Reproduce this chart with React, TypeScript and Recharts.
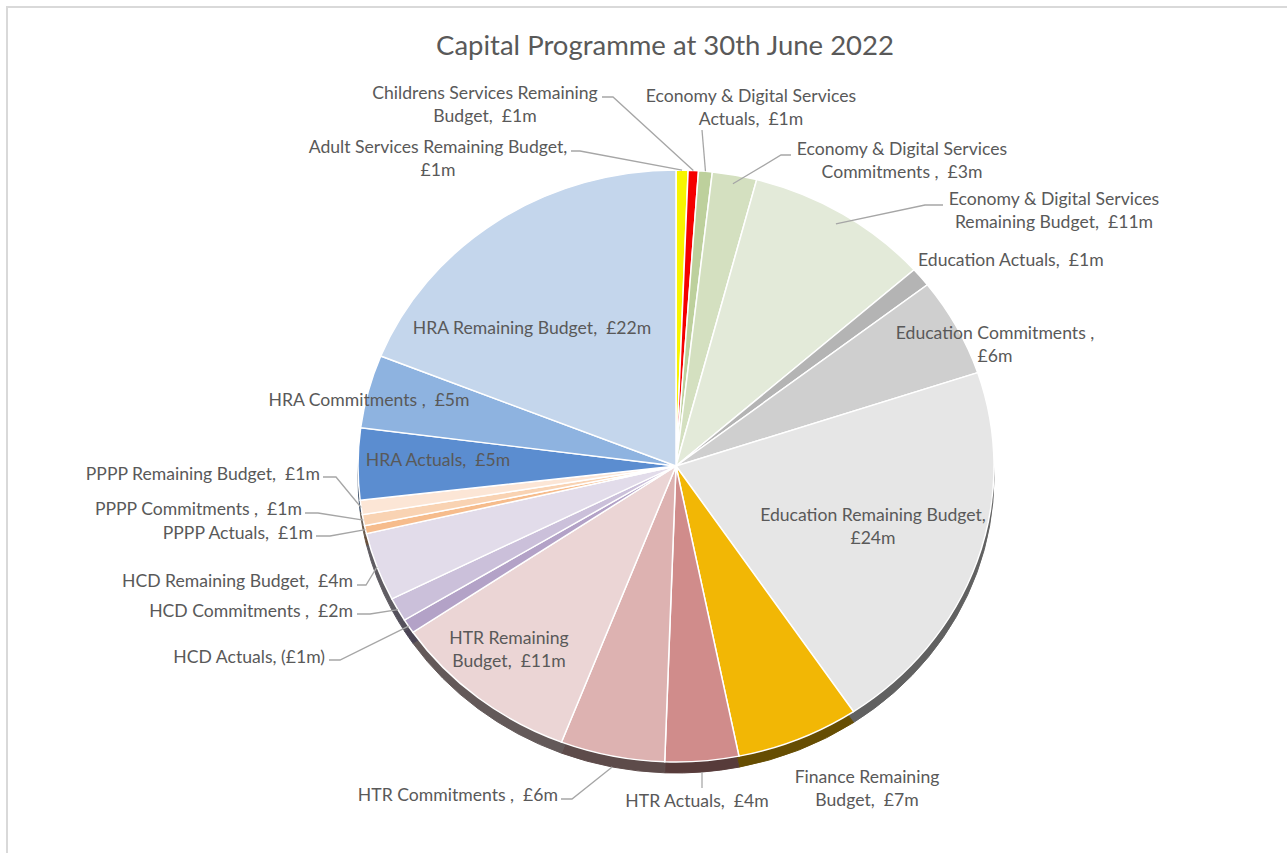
import { PieChart, Pie, Cell } from 'recharts';

// Capital Programme at 30th June 2022 (£m)
const categories = [
  'Adult Services Remaining Budget',
  'Childrens Services Remaining Budget',
  'Economy & Digital Services Actuals',
  'Economy & Digital Services Commitments ',
  'Economy & Digital Services Remaining Budget',
  'Education Actuals',
  'Education Commitments ',
  'Education Remaining Budget',
  'Finance Remaining Budget',
  'HTR Actuals',
  'HTR Commitments ',
  'HTR Remaining Budget',
  'HCD Actuals',
  'HCD Commitments ',
  'HCD Remaining Budget',
  'PPPP Actuals',
  'PPPP Commitments ',
  'PPPP Remaining Budget',
  'HRA Actuals',
  'HRA Commitments ',
  'HRA Remaining Budget',
];

const amounts = [
  0.7, 0.6, 0.8, 2.6, 10.8, 1.2, 6.2, 23.8, 7.2, 4.3, 6.1, 11.1, -0.9, 1.5, 4.3,
  0.5, 0.7, 0.9, 4.5, 4.6, 21.8,
];

const sliceColors = [
  '#F7F400', '#F50000', '#BDD09C', '#D4E0C0', '#E3EAD9', '#B4B4B4', '#CFCFCF',
  '#E6E6E6', '#F2B705', '#D08C8B', '#DDB2B1', '#EBD5D5', '#B3A2C7', '#CBC0DA',
  '#E2DCEA', '#F6BC8C', '#F9D3B3', '#FCE6D6', '#5B8DD0', '#8EB3E0', '#C4D6EC',
];

const W = 1287;
const H = 853;
const CX = 676;
const CY = 466;
const RX = 318;
const RY = 296;
const K = RY / RX; // the 3D pie is seen slightly from above
const RIM = 11;
const LINE = 23;
const FONT = "Lato, 'Open Sans', sans-serif";
const NO_MARGIN = { top: 0, right: 0, bottom: 0, left: 0 };

type Spot = {
  x: number;
  y: number;
  anchor: 'start' | 'middle' | 'end';
  wrap: number; // words of the name kept on line 1 (0 = one line)
  leader?: [number, number][];
  reach?: number;
  drop?: number;
};

// where Excel put each data label
const labelSpots: Spot[] = [
  { x: 438, y: 146, anchor: 'middle', wrap: 99, leader: [[571, 151], [580, 151]] },
  { x: 485, y: 92, anchor: 'middle', wrap: 3, leader: [[602, 97], [613, 97]] },
  { x: 751, y: 95, anchor: 'middle', wrap: 4, leader: [[702, 130]] },
  { x: 902, y: 148, anchor: 'middle', wrap: 4, leader: [[791, 155], [781, 155]], reach: 0.97 },
  { x: 1054, y: 198, anchor: 'middle', wrap: 4, leader: [[943, 205], [925, 205]], reach: 0.96 },
  { x: 918, y: 259, anchor: 'start', wrap: 0 },
  { x: 995, y: 332, anchor: 'middle', wrap: 99 },
  { x: 873, y: 514, anchor: 'middle', wrap: 99 },
  { x: 867, y: 776, anchor: 'middle', wrap: 2 },
  { x: 697, y: 800, anchor: 'middle', wrap: 0, leader: [[702, 788]], drop: RIM },
  { x: 558, y: 794, anchor: 'end', wrap: 0, leader: [[561, 799], [572, 799]], drop: RIM },
  { x: 509, y: 637, anchor: 'middle', wrap: 2 },
  { x: 325, y: 656, anchor: 'end', wrap: 0, leader: [[329, 660], [340, 660]] },
  { x: 353, y: 610, anchor: 'end', wrap: 0, leader: [[357, 614], [370, 614]] },
  { x: 353, y: 580, anchor: 'end', wrap: 0, leader: [[357, 585], [366, 585]] },
  { x: 313, y: 532, anchor: 'end', wrap: 0, leader: [[316, 536], [330, 536]] },
  { x: 302, y: 508, anchor: 'end', wrap: 0, leader: [[305, 513], [318, 513]] },
  { x: 320, y: 473, anchor: 'end', wrap: 0, leader: [[323, 477], [336, 477]] },
  { x: 438, y: 459, anchor: 'middle', wrap: 0 },
  { x: 369, y: 399, anchor: 'middle', wrap: 0 },
  { x: 532, y: 327, anchor: 'middle', wrap: 0 },
];

const rows = categories.map((name, i) => ({
  name,
  value: Math.abs(amounts[i]),
  amount: amounts[i],
}));

const darken = (hex: string, f: number) => {
  const n = parseInt(hex.slice(1), 16);
  const c = [(n >> 16) & 255, (n >> 8) & 255, n & 255].map((v) => Math.round(v * f));
  return `rgb(${c[0]},${c[1]},${c[2]})`;
};

const money = (v: number) => {
  const s = `£${Math.round(Math.abs(v))}m`;
  return v < 0 ? `(${s})` : ` ${s}`;
};

function labelLines(name: string, amount: number, wrap: number): string[] {
  const m = money(amount);
  if (wrap === 0) return [`${name}, ${m}`];
  const words = name.split(' ');
  if (wrap >= words.length) return [`${name},`, m.trim()];
  const first = words.slice(0, wrap).join(' ');
  const rest = name.slice(first.length + 1);
  return [first, `${rest}, ${m}`];
}

const renderLabel = (props: any) => {
  const { midAngle, index } = props;
  const spot = labelSpots[index];
  const row = rows[index];
  if (!spot || !row) return null;
  const lines = labelLines(row.name, row.amount, spot.wrap);
  const rad = (midAngle * Math.PI) / 180;
  const reach = spot.reach ?? 1;
  const ex = CX + RX * reach * Math.cos(rad);
  const ey = CY - RY * reach * Math.sin(rad) + (spot.drop ?? 0);
  return (
    <g key={`label-${index}`}>
      {spot.leader && (
        <polyline
          points={[...spot.leader, [ex, ey]].map((p) => p.join(',')).join(' ')}
          fill="none"
          stroke="#A6A6A6"
          strokeWidth={1.3}
        />
      )}
      <text
        x={spot.x}
        y={spot.y}
        textAnchor={spot.anchor}
        dominantBaseline="central"
        fill="#595959"
        fontSize={17.6}
        fontFamily={FONT}
        style={{ whiteSpace: 'pre' }}
      >
        {lines.map((l, j) => (
          <tspan key={j} x={spot.x} dy={j === 0 ? 0 : LINE}>
            {l}
          </tspan>
        ))}
      </text>
    </g>
  );
};

export default function App() {
  return (
    <div
      style={{
        position: 'absolute',
        left: 0,
        top: 0,
        width: W,
        height: H,
        overflow: 'hidden',
        background: '#fff',
      }}
    >
      {/* chart frame */}
      <div
        style={{
          position: 'absolute',
          left: 6,
          top: 6,
          width: 1300,
          height: 900,
          border: '2px solid #D9D9D9',
        }}
      />
      <div
        style={{
          position: 'absolute',
          left: 365,
          width: 600,
          top: 28,
          textAlign: 'center',
          fontFamily: FONT,
          fontSize: 27.5,
          lineHeight: '34px',
          color: '#595959',
        }}
      >
        Capital Programme at 30th June 2022
      </div>

      {/* pie surface + rim, squashed vertically */}
      <div
        style={{
          position: 'absolute',
          left: 0,
          top: 0,
          transform: `scaleY(${K})`,
          transformOrigin: `${CX}px ${CY}px`,
        }}
      >
        <PieChart width={W} height={H} margin={NO_MARGIN}>
          <Pie
            data={rows}
            dataKey="value"
            nameKey="name"
            cx={CX}
            cy={CY + RIM / K}
            outerRadius={RX}
            startAngle={90}
            endAngle={-270}
            isAnimationActive={false}
            labelLine={false}
          >
            {rows.map((r, i) => (
              <Cell key={r.name} fill={darken(sliceColors[i], 0.42)} stroke={darken(sliceColors[i], 0.42)} />
            ))}
          </Pie>
          <Pie
            data={rows}
            dataKey="value"
            nameKey="name"
            cx={CX}
            cy={CY}
            outerRadius={RX}
            startAngle={90}
            endAngle={-270}
            isAnimationActive={false}
            labelLine={false}
          >
            {rows.map((r, i) => (
              <Cell key={r.name} fill={sliceColors[i]} stroke="#FFFFFF" strokeWidth={1.5} />
            ))}
          </Pie>
        </PieChart>
      </div>

      {/* data labels, unsquashed */}
      <div style={{ position: 'absolute', left: 0, top: 0 }}>
        <PieChart width={W} height={H} margin={NO_MARGIN}>
          <Pie
            data={rows}
            dataKey="value"
            nameKey="name"
            cx={CX}
            cy={CY}
            outerRadius={RX}
            startAngle={90}
            endAngle={-270}
            isAnimationActive={false}
            labelLine={false}
            label={renderLabel}
          >
            {rows.map((r) => (
              <Cell key={r.name} fill="transparent" stroke="none" />
            ))}
          </Pie>
        </PieChart>
      </div>
    </div>
  );
}
